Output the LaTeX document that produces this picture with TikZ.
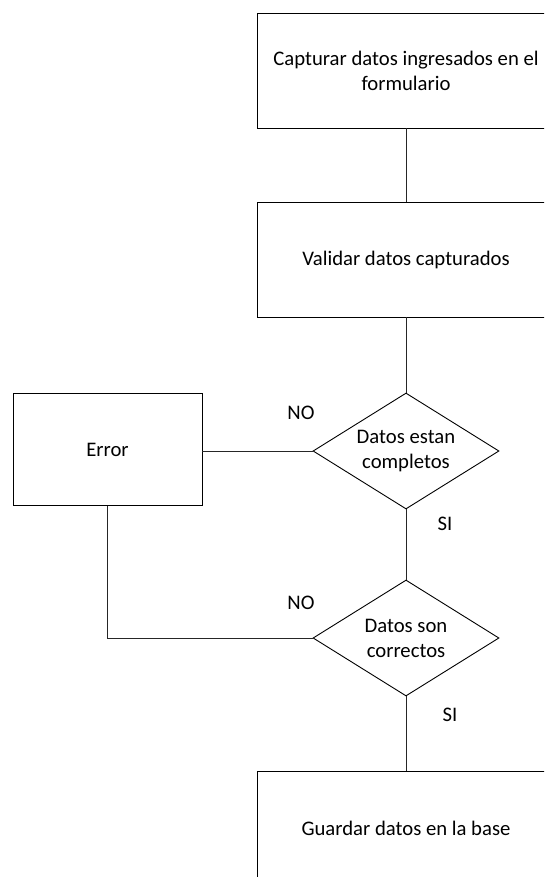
\documentclass[tikz,border=0pt]{standalone}
\usepackage{fontspec}
\setmainfont{Carlito}
\usetikzlibrary{shapes.geometric}
\begin{document}
\begin{tikzpicture}[x=1pt,y=-1pt,
  every node/.style={font=\fontsize{20.7}{25}\selectfont, text=black},
  box/.style={draw=black, line width=0.9pt, rectangle, minimum width=298pt, minimum height=115pt, align=center, inner sep=0pt},
  errbox/.style={draw=black, line width=0.9pt, rectangle, minimum width=189pt, minimum height=112pt, align=center, inner sep=0pt},
  dec/.style={draw=black, line width=0.9pt, diamond, aspect=1.6, minimum width=186pt, minimum height=116pt, align=center, inner sep=0pt},
  conn/.style={draw=black!85, line width=0.9pt},
  lbl/.style={inner sep=0pt}
]
\useasboundingbox (0,0) rectangle (544,877);
\begin{scope}
\clip (0,0) rectangle (544,877);
\node[box] (b1) at (406,70.5) {Capturar datos ingresados en el\\formulario};
\node[box] (b2) at (406,259.5) {Validar datos capturados};
\node[dec] (d1) at (406,451) {Datos estan\\completos};
\node[errbox] (err) at (107.5,449.5) {Error};
\node[dec] (d2) at (406,638) {Datos son\\correctos};
\node[box] (b3) at (406,828.5) {Guardar datos en la base};
\draw[conn] (b1.south) -- (b2.north);
\draw[conn] (b2.south) -- (d1.north);
\draw[conn] (d1.west) -- (err.east |- d1.west);
\draw[conn] (d1.south) -- (d2.north);
\draw[conn] (err.south) |- (d2.west);
\draw[conn] (d2.south) -- (b3.north);
\node[lbl] (no1) at (301,413) {NO};
\node[lbl] (si1) at (445,524) {SI};
\node[lbl] (no2) at (301,603) {NO};
\node[lbl] (si2) at (450,715) {SI};
\end{scope}
\end{tikzpicture}
\end{document}
